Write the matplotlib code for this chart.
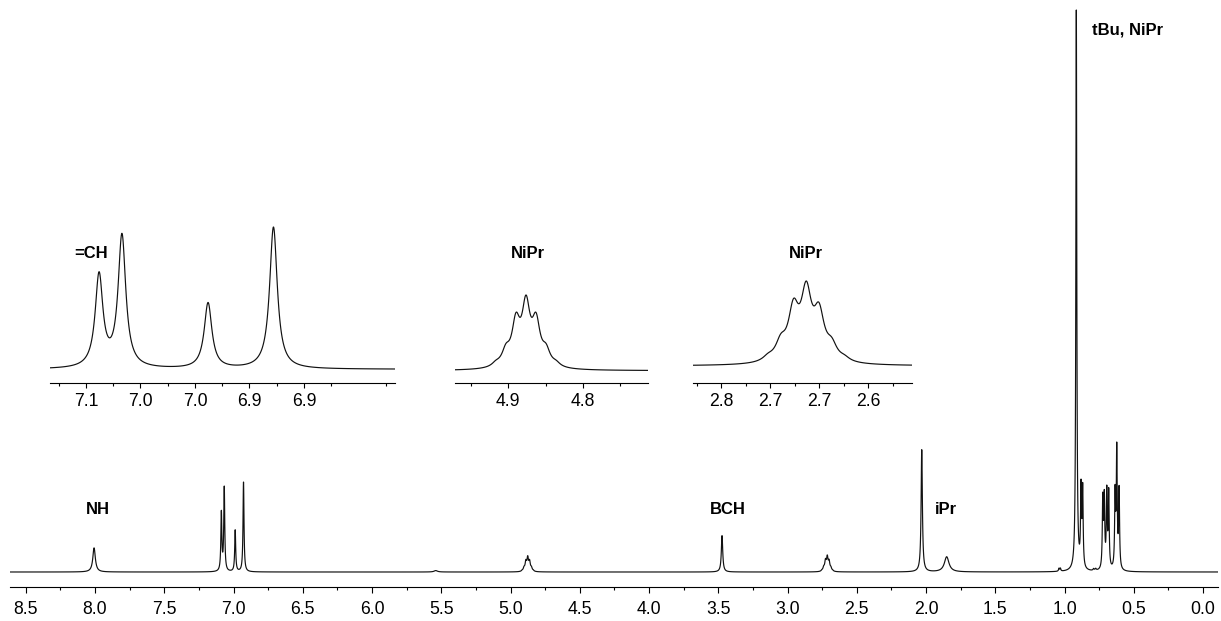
import numpy as np
import matplotlib
matplotlib.use("Agg")
import matplotlib.pyplot as plt
from matplotlib.ticker import FixedLocator

plt.rcParams["font.family"] = ["Liberation Sans", "DejaVu Sans"]
plt.rcParams["path.simplify"] = False

W, H = 1221, 621

# single lines: shift (ppm), height (tBu line = 100), FWHM (ppm)
line_ppm = [8.007, 5.54, 7.088, 7.067, 6.988, 6.928, 3.473, 2.031, 1.851,
            1.040, 1.030, 0.915, 0.881, 0.869, 0.790, 0.775,
            0.724, 0.713, 0.695, 0.681, 0.635, 0.623, 0.606]
line_height = [4.3, 0.25, 10.4, 14.9, 7.4, 16.0, 6.5, 21.8, 2.7,
               0.5, 0.5, 100.0, 13.8, 13.8, 0.3, 0.3,
               12.3, 12.3, 13.5, 13.5, 13.0, 21.0, 14.0]
line_fwhm = [0.022, 0.03, 0.0085, 0.0085, 0.0085, 0.0085, 0.012, 0.011, 0.04,
             0.008, 0.008, 0.008, 0.008, 0.008, 0.01, 0.01,
             0.008, 0.008, 0.008, 0.008, 0.008, 0.008, 0.008]

# NiPr multiplets: centre (ppm), line spacing (ppm), relative intensities
mult_centre = [4.876, 2.713]
mult_j = [0.0134, 0.013]
mult_int = [[0.04, 0.17, 0.5, 0.7, 0.5, 0.17, 0.04],
            [0.035, 0.15, 0.48, 0.7, 0.52, 0.18, 0.045]]
mult_height = [3.2, 3.3]
mult_fwhm = [0.013, 0.013]

main_ticks = np.arange(0.0, 8.51, 0.5)
main_labels = ["%.1f" % t for t in main_ticks]

# insets: ppm window, major ticks and the labels as printed
inset_xlim = [(7.133, 6.8165), (4.9707, 4.7133), (2.8286, 2.6051)]
inset_ticks = [[7.10, 7.05, 7.00, 6.95, 6.90], [4.9, 4.8], [2.80, 2.75, 2.70, 2.65]]
inset_minor = [[7.125, 7.075, 7.025, 6.975, 6.925, 6.875, 6.825],
               [4.95, 4.85, 4.75],
               [2.825, 2.775, 2.725, 2.675, 2.625]]
inset_labels = [["7.1", "7.0", "7.0", "6.9", "6.9"], ["4.9", "4.8"],
                ["2.8", "2.7", "2.7", "2.6"]]


def spectrum(ppm):
    y = np.zeros_like(ppm)
    for c, h, w in zip(line_ppm, line_height, line_fwhm):
        y += h / (1 + ((ppm - c) / (w / 2)) ** 2)
    for c, j, ints, h, w in zip(mult_centre, mult_j, mult_int, mult_height, mult_fwhm):
        offs = (np.arange(len(ints)) - (len(ints) - 1) / 2) * j
        for o, a in zip(offs, ints):
            y += h * a / (1 + ((ppm - c - o) / (w / 2)) ** 2)
    return y


def add_ax(x0, x1, ax_top, spine):
    ax = fig.add_axes([x0 / W, (H - spine) / H, (x1 - x0) / W, (spine - ax_top) / H])
    for s in ["left", "right", "top"]:
        ax.spines[s].set_visible(False)
    ax.spines["bottom"].set_linewidth(0.8)
    ax.set_yticks([])
    ax.patch.set_alpha(0)
    return ax


def fit_y(ax, y, ax_top, spine, base, top):
    s = (base - top) / y.max()
    ax.set_ylim(-(spine - base) / s, (base - ax_top) / s)


fig = plt.figure(figsize=(W / 100, H / 100), dpi=100)

# main spectrum
ax = add_ax(10, 1218, 5, 587)
x = np.arange(-0.11, 8.62, 0.0002)
y = spectrum(x)
ax.plot(x, y, color="#111111", lw=0.85)
ax.set_xlim(8.614, -0.108)
fit_y(ax, y, 5, 587, 572, 10)
ax.xaxis.set_major_locator(FixedLocator(main_ticks))
ax.xaxis.set_minor_locator(FixedLocator(main_ticks[:-1] + 0.25))
ax.set_xticklabels(main_labels)
ax.tick_params(axis="x", which="major", direction="out", length=4.5, width=0.8,
               pad=5.3, labelsize=12.7)
ax.tick_params(axis="x", which="minor", direction="out", length=2.4, width=0.8)

# insets
inset_box = [(50, 395, 369.3, 227), (455, 648, 370.7, 295), (693, 912, 366, 281)]
for i, (x0, x1, base, top) in enumerate(inset_box):
    a = add_ax(x0, x1, 215, 382.5)
    lo, hi = inset_xlim[i]
    xi = np.linspace(hi, lo, 4000)
    yi = spectrum(xi)
    a.plot(xi, yi, color="#111111", lw=0.85)
    a.set_xlim(lo, hi)
    fit_y(a, yi, 215, 382.5, base, top)
    a.xaxis.set_major_locator(FixedLocator(inset_ticks[i]))
    a.xaxis.set_minor_locator(FixedLocator(inset_minor[i]))
    a.set_xticklabels(inset_labels[i])
    a.tick_params(axis="x", which="major", direction="out", length=3.6, width=0.8,
                  pad=3.9, labelsize=12.7)
    a.tick_params(axis="x", which="minor", direction="out", length=1.8, width=0.8)

# peak labels (pixel centres)
peak_text = ["NH", "=CH", "NiPr", "NiPr", "BCH", "iPr", "tBu, NiPr"]
text_pos = [(98, 509), (91, 254), (528, 253), (806, 253), (728, 510), (946, 510), (1128, 30)]
for t, (px, py) in zip(peak_text, text_pos):
    fig.text(px / W, 1 - py / H, t, ha="center", va="center",
             fontsize=12, fontweight="bold")

fig.savefig("out.png", dpi=100)
